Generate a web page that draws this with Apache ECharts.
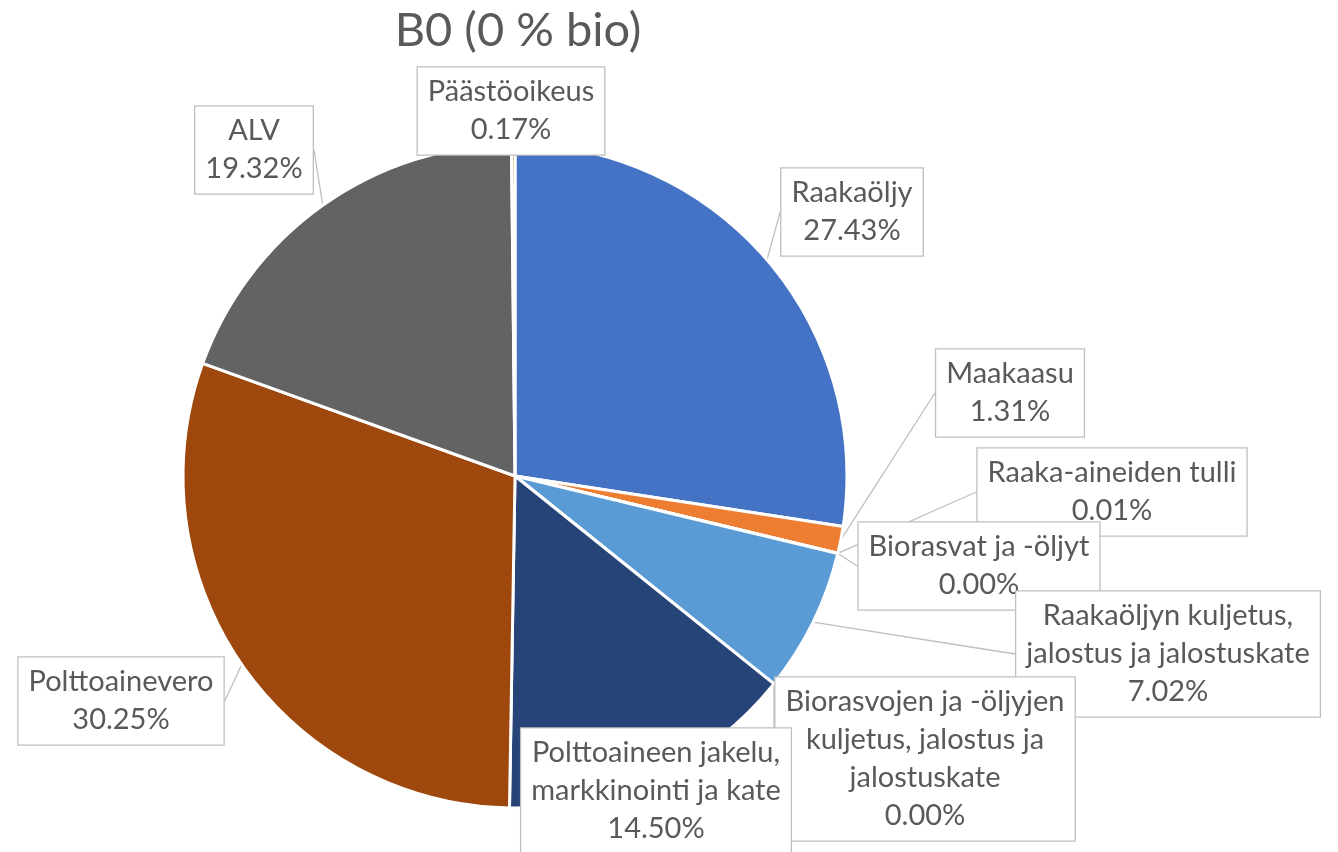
<!DOCTYPE html>
<html>
<head>
<meta charset="utf-8">
<script src="https://cdn.jsdelivr.net/npm/echarts@6/dist/echarts.min.js"></script>
<style>
  html, body { margin: 0; padding: 0; background: #fff; }
  #chart { width: 1338px; height: 852px; }
</style>
</head>
<body>
<div id="chart"></div>
<script>
// data
const categories = ['Raakaöljy', 'Maakaasu', 'Raaka-aineiden tulli', 'Biorasvat ja -öljyt',
  'Raakaöljyn kuljetus, jalostus ja jalostuskate',
  'Biorasvojen ja -öljyjen kuljetus, jalostus ja jalostuskate',
  'Polttoaineen jakelu, markkinointi ja kate', 'Polttoainevero', 'ALV', 'Päästöoikeus'];
const shares = [27.43, 1.31, 0.01, 0.00, 7.02, 0.00, 14.50, 30.25, 19.32, 0.17];
// how the names wrap inside the callouts
const wrappedNames = ['Raakaöljy', 'Maakaasu', 'Raaka-aineiden tulli', 'Biorasvat ja -öljyt',
  'Raakaöljyn kuljetus,\njalostus ja jalostuskate',
  'Biorasvojen ja -öljyjen\nkuljetus, jalostus ja\njalostuskate',
  'Polttoaineen jakelu,\nmarkkinointi ja kate', 'Polttoainevero', 'ALV', 'Päästöoikeus'];

const colors = ['#4472C4', '#ED7D31', '#A5A5A5', '#FFC000', '#5B9BD5',
  '#70AD47', '#264478', '#9E480E', '#636363', '#997300'];
// callout box centres (px)
const labelCenters = [[852, 212], [1010, 393], [1112, 492], [979, 566], [1168, 654],
  [925, 759], [656, 791], [121, 701], [254, 150], [511, 111]];

const chart = echarts.init(document.getElementById('chart'));

const option = {
  animation: false,
  title: {
    text: 'B0 (0 % bio)',
    left: 513,
    top: 2,
    textAlign: 'center',
    textStyle: { fontFamily: 'Lato', fontSize: 47, fontWeight: 'normal', color: '#595959' }
  },
  series: [{
    type: 'pie',
    center: [515, 476],
    radius: 332,
    startAngle: 90,
    avoidLabelOverlap: false,
    emphasis: { disabled: true },
    itemStyle: { borderColor: '#fff', borderWidth: 3 },
    data: categories.map((name, i) => ({
      name: name,
      value: shares[i],
      itemStyle: { color: colors[i] }
    })),
    label: {
      show: true,
      formatter: (p) => wrappedNames[p.dataIndex] + '\n' + shares[p.dataIndex].toFixed(2) + '%',
      fontFamily: 'Lato',
      fontSize: 29,
      lineHeight: 38,
      color: '#595959',
      backgroundColor: '#fff',
      borderColor: '#BFBFBF',
      borderWidth: 1.3,
      padding: [6, 10, 5, 10],
      align: 'center'
    },
    labelLine: {
      show: true,
      length: 10,
      length2: 0,
      lineStyle: { color: '#BFBFBF', width: 1.3 }
    },
    labelLayout: function (params) {
      const c = labelCenters[params.dataIndex];
      return { x: c[0], y: c[1], align: 'center', verticalAlign: 'middle' };
    }
  }]
};

chart.setOption(option);
</script>
</body>
</html>
